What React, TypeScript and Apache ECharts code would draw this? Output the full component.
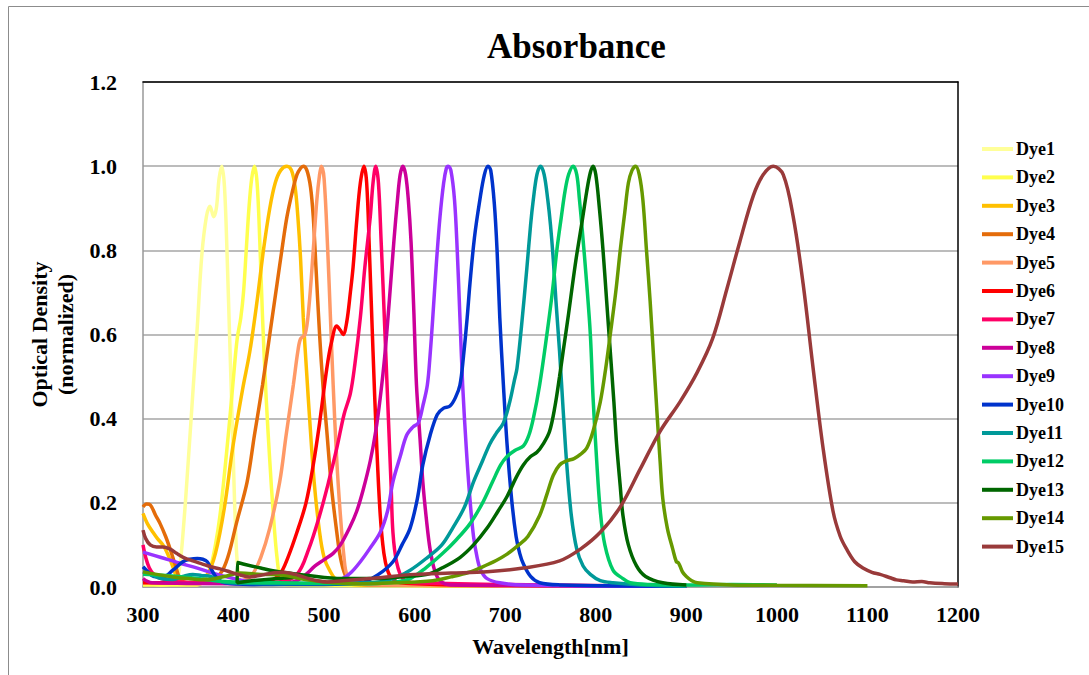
import React, { useEffect, useRef } from "react";
import * as echarts from "echarts";

const dyeNames = ["Dye1","Dye2","Dye3","Dye4","Dye5","Dye6","Dye7","Dye8","Dye9","Dye10","Dye11","Dye12","Dye13","Dye14","Dye15"];
const dyeColors = ["#FFFF99","#FFFF4D","#FFC000","#E46C0A","#FF9966","#FF0000","#FF0066","#CC0099","#9933FF","#0033CC","#009999","#00CC66","#006600","#669900","#993A3A"];

const xTicks = [300, 400, 500, 600, 700, 800, 900, 1000, 1100, 1200];
const yTicks = [0, 0.2, 0.4, 0.6, 0.8, 1.0, 1.2];

const dye1 = [[300,0.01],[320,0.005],[335,0.01],[340,0.04],[345,0.15],[350,0.3],[355,0.46],[360,0.62],[365,0.79],[370,0.88],[374,0.905],[378,0.88],[381,0.9],[384,0.97],[387,1.0],[390,0.95],[393,0.78],[396,0.57],[399,0.36],[402,0.15],[405,0.04],[410,0.01],[450,0.005],[600,0.003],[900,0.002]];
const dye2 = [[300,0.005],[360,0.005],[370,0.02],[375,0.05],[380,0.1],[385,0.17],[390,0.27],[395,0.38],[400,0.5],[404,0.59],[408,0.64],[411,0.7],[414,0.8],[417,0.9],[420,0.97],[423,1.0],[426,0.96],[429,0.82],[432,0.64],[436,0.45],[440,0.3],[444,0.17],[448,0.07],[452,0.02],[460,0.005],[900,0.002]];
const dye3 = [[300,0.175],[305,0.15],[311,0.13],[316,0.115],[322,0.1],[328,0.075],[333,0.048],[338,0.02],[345,0.01],[360,0.012],[371,0.03],[380,0.08],[390,0.19],[399,0.33],[410,0.47],[418,0.56],[426,0.68],[433,0.8],[440,0.9],[446,0.96],[452,0.99],[459,1.0],[464,0.99],[468,0.95],[471,0.88],[474,0.78],[477,0.64],[481,0.5],[484,0.4],[489,0.25],[495,0.13],[500,0.07],[506,0.04],[515,0.015],[540,0.005],[900,0.002]];
const dye4 = [[300,0.19],[304,0.197],[308,0.195],[314,0.17],[319,0.15],[325,0.12],[330,0.09],[336,0.05],[341,0.02],[350,0.01],[370,0.01],[380,0.02],[388,0.04],[395,0.08],[403,0.15],[415,0.25],[423,0.36],[432,0.48],[440,0.6],[448,0.72],[454,0.81],[459,0.88],[465,0.94],[470,0.98],[474,0.995],[477,1.0],[481,0.99],[485,0.95],[488,0.88],[491,0.76],[495,0.6],[499,0.47],[503,0.37],[508,0.24],[514,0.13],[518,0.07],[523,0.03],[530,0.01],[560,0.005],[900,0.002]];
const dye5 = [[300,0.01],[400,0.01],[415,0.02],[421,0.03],[430,0.07],[440,0.14],[451,0.25],[458,0.36],[466,0.48],[471,0.56],[474,0.59],[479,0.6],[483,0.66],[488,0.8],[492,0.92],[495,0.98],[497,1.0],[500,0.97],[504,0.8],[507,0.64],[510,0.48],[514,0.3],[518,0.17],[522,0.07],[525,0.03],[532,0.01],[560,0.005],[900,0.002]];
const dye6 = [[300,0.01],[420,0.01],[440,0.015],[451,0.03],[460,0.07],[470,0.13],[480,0.2],[488,0.29],[495,0.39],[503,0.52],[508,0.58],[514,0.62],[518,0.61],[521,0.6],[525,0.63],[529,0.7],[532,0.76],[536,0.87],[540,0.96],[544,1.0],[547,0.96],[550,0.8],[554,0.56],[558,0.34],[562,0.17],[566,0.08],[570,0.04],[575,0.02],[585,0.01],[650,0.005],[900,0.002]];
const dye7 = [[300,0.1],[303,0.07],[307,0.045],[312,0.03],[320,0.02],[340,0.012],[400,0.01],[450,0.012],[470,0.03],[483,0.09],[495,0.17],[505,0.25],[514,0.33],[522,0.41],[529,0.46],[534,0.53],[540,0.64],[545,0.76],[551,0.88],[554,0.96],[557,1.0],[560,0.96],[563,0.82],[565,0.72],[568,0.56],[571,0.4],[574,0.24],[576,0.13],[580,0.06],[587,0.02],[600,0.01],[900,0.002]];
const dye8 = [[300,0.02],[310,0.01],[400,0.008],[460,0.01],[470,0.015],[480,0.03],[490,0.05],[500,0.065],[510,0.08],[518,0.1],[528,0.14],[536,0.18],[543,0.23],[551,0.3],[557,0.37],[562,0.45],[567,0.55],[572,0.68],[577,0.82],[581,0.92],[584,0.98],[587,1.0],[590,0.98],[593,0.92],[596,0.82],[599,0.66],[602,0.48],[606,0.35],[609,0.25],[613,0.16],[617,0.09],[622,0.04],[628,0.015],[640,0.005],[900,0.002]];
const dye9 = [[300,0.083],[320,0.07],[340,0.057],[360,0.045],[382,0.03],[400,0.02],[420,0.012],[450,0.008],[500,0.01],[520,0.02],[530,0.035],[540,0.06],[550,0.09],[562,0.13],[570,0.18],[576,0.25],[584,0.31],[591,0.36],[598,0.38],[604,0.39],[609,0.43],[614,0.48],[617,0.55],[620,0.64],[624,0.77],[628,0.88],[632,0.96],[635,0.995],[637,1.0],[640,0.99],[644,0.92],[647,0.8],[650,0.64],[653,0.48],[657,0.33],[661,0.21],[665,0.12],[669,0.07],[673,0.04],[680,0.02],[694,0.01],[720,0.005],[900,0.002]];
const dye10 = [[300,0.048],[306,0.035],[312,0.025],[322,0.024],[333,0.04],[344,0.06],[352,0.066],[360,0.068],[366,0.066],[371,0.06],[376,0.04],[382,0.02],[390,0.01],[420,0.006],[500,0.006],[540,0.01],[560,0.03],[576,0.06],[586,0.1],[595,0.14],[603,0.21],[609,0.29],[617,0.36],[625,0.41],[632,0.425],[639,0.43],[645,0.45],[650,0.48],[654,0.55],[658,0.64],[661,0.72],[666,0.83],[672,0.92],[677,0.98],[681,1.0],[684,0.99],[688,0.91],[691,0.8],[694,0.64],[698,0.48],[702,0.34],[707,0.21],[712,0.12],[716,0.08],[720,0.055],[728,0.025],[738,0.01],[760,0.005],[900,0.002]];
const dye11 = [[300,0.036],[310,0.028],[320,0.02],[333,0.018],[344,0.025],[355,0.03],[365,0.027],[375,0.025],[382,0.015],[395,0.01],[450,0.008],[550,0.01],[576,0.02],[595,0.04],[614,0.07],[630,0.1],[642,0.14],[655,0.19],[665,0.25],[675,0.3],[683,0.34],[690,0.365],[698,0.39],[705,0.44],[710,0.49],[713,0.52],[718,0.62],[724,0.76],[728,0.86],[731,0.92],[735,0.98],[739,1.0],[743,0.98],[747,0.92],[750,0.86],[753,0.78],[756,0.68],[760,0.56],[764,0.42],[768,0.29],[773,0.17],[779,0.09],[786,0.05],[794,0.03],[805,0.015],[819,0.01],[850,0.005],[900,0.002]];
const dye12 = [[300,0.03],[320,0.028],[340,0.025],[360,0.02],[380,0.015],[400,0.012],[450,0.01],[550,0.008],[580,0.012],[595,0.02],[612,0.045],[631,0.08],[645,0.11],[661,0.15],[675,0.2],[686,0.25],[695,0.29],[702,0.31],[711,0.325],[720,0.335],[726,0.36],[731,0.4],[738,0.48],[746,0.6],[752,0.7],[757,0.8],[762,0.88],[766,0.94],[770,0.98],[775,1.0],[779,0.98],[782,0.92],[785,0.85],[790,0.72],[794,0.6],[797,0.45],[801,0.3],[805,0.18],[810,0.1],[819,0.04],[830,0.02],[838,0.01],[860,0.006],[900,0.005],[950,0.006],[1000,0.005]];
const dye13 = [[480,0.025],[450,0.02],[420,0.015],[404,0.01],[404.2,0.058],[430,0.045],[450,0.036],[480,0.028],[520,0.02],[560,0.02],[590,0.025],[614,0.03],[630,0.045],[650,0.07],[665,0.1],[680,0.14],[692,0.18],[702,0.215],[712,0.26],[720,0.29],[728,0.31],[735,0.32],[742,0.34],[749,0.37],[755,0.43],[760,0.5],[764,0.56],[770,0.65],[775,0.73],[779,0.79],[785,0.87],[790,0.94],[794,0.985],[797,1.0],[800,0.98],[804,0.9],[808,0.8],[812,0.68],[816,0.56],[820,0.44],[823,0.34],[827,0.24],[830,0.17],[836,0.1],[845,0.05],[855,0.025],[874,0.01],[900,0.005]];
const dye14 = [[300,0.036],[315,0.03],[333,0.024],[350,0.02],[370,0.017],[390,0.025],[407,0.033],[430,0.03],[455,0.028],[481,0.017],[510,0.01],[540,0.008],[580,0.01],[620,0.015],[640,0.024],[660,0.035],[675,0.048],[690,0.063],[702,0.078],[715,0.1],[725,0.12],[738,0.17],[746,0.22],[753,0.265],[760,0.29],[768,0.3],[776,0.305],[783,0.315],[790,0.33],[797,0.37],[805,0.44],[811,0.52],[816,0.6],[822,0.7],[827,0.8],[832,0.89],[836,0.96],[840,0.99],[844,1.0],[848,0.98],[852,0.92],[856,0.8],[860,0.68],[864,0.54],[868,0.4],[871,0.3],[874,0.21],[879,0.14],[885,0.09],[889,0.06],[891,0.058],[893,0.05],[896,0.035],[900,0.025],[906,0.015],[912,0.01],[950,0.005],[1000,0.004],[1100,0.003]];
const dye15 = [[300,0.135],[303,0.115],[308,0.1],[315,0.095],[322,0.095],[330,0.09],[337,0.08],[345,0.07],[355,0.062],[365,0.055],[375,0.048],[385,0.043],[393,0.038],[405,0.03],[418,0.024],[430,0.028],[445,0.034],[455,0.035],[468,0.03],[481,0.021],[492,0.015],[503,0.012],[520,0.015],[554,0.021],[600,0.03],[640,0.033],[680,0.036],[720,0.045],[760,0.062],[783,0.09],[805,0.13],[827,0.19],[849,0.28],[871,0.37],[893,0.44],[912,0.51],[929,0.59],[945,0.71],[959,0.82],[974,0.93],[985,0.98],[996,1.0],[1007,0.98],[1018,0.88],[1029,0.72],[1040,0.52],[1051,0.33],[1062,0.18],[1070,0.12],[1077,0.09],[1086,0.06],[1095,0.045],[1105,0.035],[1114,0.03],[1125,0.022],[1132,0.017],[1140,0.015],[1150,0.012],[1160,0.013],[1169,0.01],[1185,0.008],[1200,0.007]];

const dyeData = [dye1, dye2, dye3, dye4, dye5, dye6, dye7, dye8, dye9, dye10, dye11, dye12, dye13, dye14, dye15];

const FONT = "'Liberation Serif', 'Times New Roman', serif";

export default function App() {
  const ref = useRef<HTMLDivElement>(null);
  useEffect(() => {
    if (!ref.current) return;
    const chart = echarts.init(ref.current, null, { renderer: "svg" });
    const series = dyeNames.map((name, i) => ({
      name,
      type: "line",
      data: dyeData[i],
      showSymbol: false,
      symbol: "none",
      smooth: 0.35,
      lineStyle: { color: dyeColors[i], width: 3.5 },
      itemStyle: { color: dyeColors[i] },
      xAxisIndex: 0,
      yAxisIndex: 0,
    }));
    chart.setOption({
      animation: false,
      backgroundColor: "#ffffff",
      title: {
        text: "Absorbance",
        left: 482,
        top: 24,
        textStyle: { fontFamily: FONT, fontWeight: "bold", fontSize: 35, color: "#000" },
      },
      legend: {
        orient: "vertical",
        left: 982,
        top: 139,
        padding: 0,
        icon: "rect",
        itemWidth: 31,
        itemHeight: 4,
        itemGap: 8.4,
        data: dyeNames,
        textStyle: { fontFamily: FONT, fontWeight: "bold", fontSize: 18, color: "#000", lineHeight: 20, padding: [0, 0, 0, -2] },
      },
      grid: { left: 143, right: 131, top: 82, bottom: 88, containLabel: false },
      xAxis: [
        {
          type: "value",
          min: xTicks[0],
          max: xTicks[xTicks.length - 1],
          interval: 100,
          name: "Wavelength[nm]",
          nameLocation: "middle",
          nameGap: 48,
          nameTextStyle: { fontFamily: FONT, fontWeight: "bold", fontSize: 22, color: "#000" },
          axisLine: { show: true, lineStyle: { color: "#999", width: 1.5 } },
          axisTick: { show: false },
          splitLine: { show: false },
          axisLabel: {
            margin: 16,
            fontFamily: FONT,
            fontWeight: "bold",
            fontSize: 22,
            color: "#000",
            formatter: (v: number) => String(v),
          },
        },
        {
          type: "value",
          position: "top",
          min: xTicks[0],
          max: xTicks[xTicks.length - 1],
          axisLine: { show: true, onZero: false, lineStyle: { color: "#000", width: 1.5 } },
          axisTick: { show: false },
          axisLabel: { show: false },
          splitLine: { show: false },
        },
      ],
      yAxis: [
        {
          type: "value",
          min: yTicks[0],
          max: yTicks[yTicks.length - 1],
          interval: 0.2,
          name: "Optical Density\n(normalized)",
          nameLocation: "middle",
          nameRotate: 90,
          nameGap: 56,
          nameTextStyle: { fontFamily: FONT, fontWeight: "bold", fontSize: 22, color: "#000", lineHeight: 26 },
          axisLine: { show: true, lineStyle: { color: "#999", width: 1.5 } },
          axisTick: { show: false },
          splitLine: { show: true, lineStyle: { color: "#a6a6a6", width: 1.5 } },
          axisLabel: {
            margin: 26,
            fontFamily: FONT,
            fontWeight: "bold",
            fontSize: 22,
            color: "#000",
            formatter: (v: number) => v.toFixed(1),
          },
        },
        {
          type: "value",
          position: "right",
          min: yTicks[0],
          max: yTicks[yTicks.length - 1],
          axisLine: { show: true, onZero: false, lineStyle: { color: "#000", width: 1.5 } },
          axisTick: { show: false },
          axisLabel: { show: false },
          splitLine: { show: false },
        },
      ],
      graphic: [
        {
          type: "rect",
          shape: { x: 8.5, y: 6.5, width: 1200, height: 800 },
          style: { fill: "none", stroke: "#8c8c8c", lineWidth: 1 },
          silent: true,
        },
      ],
      series,
    });
    return () => chart.dispose();
  }, []);
  return (
    <div
      ref={ref}
      style={{ position: "fixed", left: 0, top: 0, width: 1089, height: 675, background: "#fff" }}
    />
  );
}
